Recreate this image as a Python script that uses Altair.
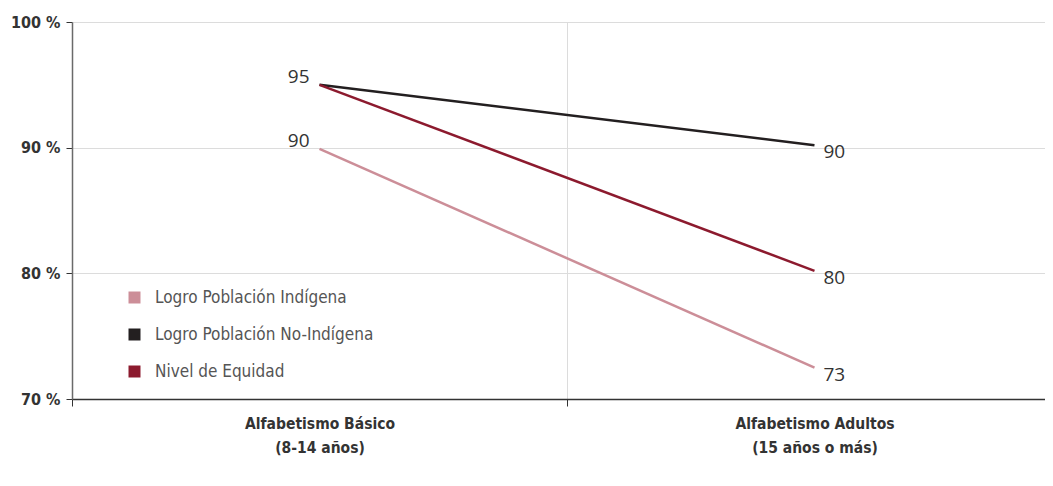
import altair as alt
import pandas as pd

categories = ["Alfabetismo Básico|(8-14 años)", "Alfabetismo Adultos|(15 años o más)"]
series = ["Logro Población Indígena", "Logro Población No-Indígena", "Nivel de Equidad"]
colors = ["#cc8e98", "#231f20", "#8c1a2e"]
indigena = [89.9, 72.5]
no_indigena = [95.0, 90.2]
equidad = [95.0, 80.2]
labels_indigena = ["90", "73"]
labels_no_indigena = ["95", "90"]
labels_equidad = ["", "80"]
y_ticks = [70, 80, 90, 100]

rows = []
for s, vals, labs in zip(series, [indigena, no_indigena, equidad],
                         [labels_indigena, labels_no_indigena, labels_equidad]):
    for i, (c, v, l) in enumerate(zip(categories, vals, labs)):
        rows.append({"cat": c, "serie": s, "valor": v, "label": l, "idx": i})
df = pd.DataFrame(rows)

AXIS_FONT = "Liberation Sans Narrow, DejaVu Sans Condensed, sans-serif"

x_enc = alt.X("cat:N", sort=categories,
              scale=alt.Scale(type="band", range=[0, 990], paddingInner=0, paddingOuter=0),
              axis=alt.Axis(title=None, labelAngle=0, tickBand="extent", grid=True,
                            gridColor="#dcdcdc", gridWidth=1, domainColor="#333333",
                            domainWidth=1.5, tickColor="#333333", tickSize=7,
                            labelExpr="split(datum.label, '|')", labelLimit=400,
                            labelFont=AXIS_FONT, labelFontWeight="bold", labelFontSize=15.5,
                            labelColor="#333333", labelLineHeight=24, labelPadding=10))
y_enc = alt.Y("valor:Q", scale=alt.Scale(domain=[70, 100], nice=False, zero=False),
              axis=alt.Axis(title=None, values=y_ticks, labelExpr="datum.value + ' %'",
                            grid=True, gridColor="#dcdcdc", domainColor="#6a6a6a",
                            domainWidth=1.5, tickColor="#333333", tickSize=6,
                            labelFont=AXIS_FONT, labelFontWeight="bold", labelFontSize=16,
                            labelColor="#333333", labelPadding=6, labelLimit=200))

color_enc = alt.Color("serie:N", sort=series,
                      scale=alt.Scale(domain=series, range=colors),
                      legend=alt.Legend(title=None, orient="none", legendX=54, legendY=267,
                                        symbolType="square", symbolSize=36,
                                        symbolStrokeWidth=6, labelFont=AXIS_FONT,
                                        labelFontSize=17, labelColor="#555555",
                                        rowPadding=6, labelOffset=12, labelLimit=400))

lines = alt.Chart(df).mark_line(strokeWidth=2.5).encode(x=x_enc, y=y_enc, color=color_enc)

text_base = alt.Chart(df).encode(x=alt.X("cat:N", sort=categories), y="valor:Q", text="label:N")
left_text = text_base.transform_filter("datum.idx == 0").mark_text(
    align="right", dx=-10, dy=-8, font="Open Sans", fontSize=19, color="#333333")
right_text = text_base.transform_filter("datum.idx == 1").mark_text(
    align="left", dx=9, dy=7, font="Open Sans", fontSize=19, color="#333333")

chart = alt.layer(lines, left_text, right_text).properties(
    width=973, height=377,
    autosize=alt.AutoSizeParams(type="none"),
    padding={"left": 64, "top": 14, "right": 0, "bottom": 80},
).configure_view(stroke=None).configure(background="white")

chart.save("out.html", embed_options={"renderer": "svg", "actions": False})
